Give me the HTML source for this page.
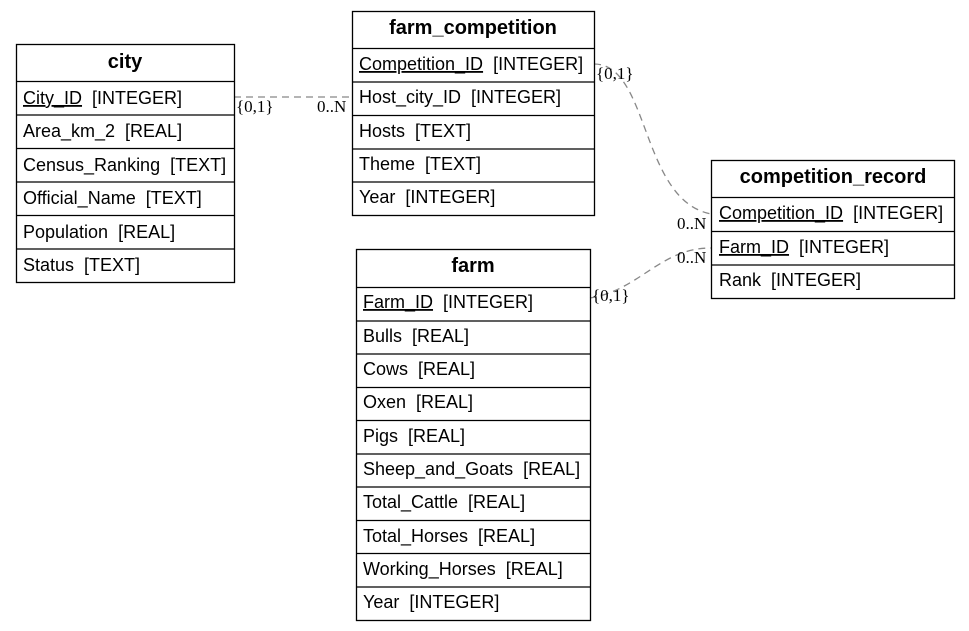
<!DOCTYPE html>
<html><head><meta charset="utf-8"><style>
html,body{margin:0;padding:0;background:#fff;width:969px;height:631px;overflow:hidden}
svg{display:block}
text{font-family:"Liberation Sans",Arial,sans-serif;font-size:18px;fill:#000;white-space:pre}
.t{font-weight:bold;font-size:20px}
.l{font-family:"Liberation Serif",serif;font-size:17px}
rect,line.b{fill:none;stroke:#000;stroke-width:1.3}
.d{fill:none;stroke:#888;stroke-width:1.3;stroke-dasharray:7,5}
</style></head><body>
<svg width="969" height="631">
<path class="d" d="M234,97 L352,97"/>
<path class="d" d="M594,64 C650,64 640,200 711,214"/>
<path class="d" d="M590,298 C640,290 660,248 711,248"/>
<text class="l" x="236" y="112">{0,1}</text>
<text class="l" x="317" y="112">0..N</text>
<text class="l" x="596" y="79">{0,1}</text>
<text class="l" x="677" y="229">0..N</text>
<text class="l" x="677" y="263">0..N</text>
<text class="l" x="592" y="301">{0,1}</text>

<rect x="16.5" y="44.5" width="218" height="238"/>
<text class="t" x="125" y="68" text-anchor="middle">city</text>
<line class="b" x1="16" y1="81.5" x2="234" y2="81.5"/>
<line class="b" x1="16" y1="115" x2="234" y2="115"/>
<line class="b" x1="16" y1="148.5" x2="234" y2="148.5"/>
<line class="b" x1="16" y1="182" x2="234" y2="182"/>
<line class="b" x1="16" y1="215.5" x2="234" y2="215.5"/>
<line class="b" x1="16" y1="249" x2="234" y2="249"/>
<text x="23" y="104"><tspan text-decoration="underline">City_ID</tspan>&#160;&#160;[INTEGER]</text>
<text x="23" y="137">Area_km_2&#160;&#160;[REAL]</text>
<text x="23" y="171">Census_Ranking&#160;&#160;[TEXT]</text>
<text x="23" y="204">Official_Name&#160;&#160;[TEXT]</text>
<text x="23" y="238">Population&#160;&#160;[REAL]</text>
<text x="23" y="271">Status&#160;&#160;[TEXT]</text>

<rect x="352.5" y="11.5" width="242" height="204"/>
<text class="t" x="473" y="34" text-anchor="middle">farm_competition</text>
<line class="b" x1="352" y1="48.5" x2="594" y2="48.5"/>
<line class="b" x1="352" y1="82" x2="594" y2="82"/>
<line class="b" x1="352" y1="115.5" x2="594" y2="115.5"/>
<line class="b" x1="352" y1="149" x2="594" y2="149"/>
<line class="b" x1="352" y1="182" x2="594" y2="182"/>
<text x="359" y="70"><tspan text-decoration="underline">Competition_ID</tspan>&#160;&#160;[INTEGER]</text>
<text x="359" y="103">Host_city_ID&#160;&#160;[INTEGER]</text>
<text x="359" y="137">Hosts&#160;&#160;[TEXT]</text>
<text x="359" y="170">Theme&#160;&#160;[TEXT]</text>
<text x="359" y="203">Year&#160;&#160;[INTEGER]</text>

<rect x="711.5" y="160.5" width="243" height="138"/>
<text class="t" x="833" y="183" text-anchor="middle">competition_record</text>
<line class="b" x1="711" y1="197.5" x2="954" y2="197.5"/>
<line class="b" x1="711" y1="231.5" x2="954" y2="231.5"/>
<line class="b" x1="711" y1="265" x2="954" y2="265"/>
<text x="719" y="219"><tspan text-decoration="underline">Competition_ID</tspan>&#160;&#160;[INTEGER]</text>
<text x="719" y="253"><tspan text-decoration="underline">Farm_ID</tspan>&#160;&#160;[INTEGER]</text>
<text x="719" y="286">Rank&#160;&#160;[INTEGER]</text>

<rect x="356.5" y="249.5" width="234" height="371"/>
<text class="t" x="473" y="272" text-anchor="middle">farm</text>
<line class="b" x1="356" y1="287.5" x2="590" y2="287.5"/>
<line class="b" x1="356" y1="321" x2="590" y2="321"/>
<line class="b" x1="356" y1="354" x2="590" y2="354"/>
<line class="b" x1="356" y1="387.5" x2="590" y2="387.5"/>
<line class="b" x1="356" y1="420.5" x2="590" y2="420.5"/>
<line class="b" x1="356" y1="454" x2="590" y2="454"/>
<line class="b" x1="356" y1="487" x2="590" y2="487"/>
<line class="b" x1="356" y1="520.5" x2="590" y2="520.5"/>
<line class="b" x1="356" y1="553.5" x2="590" y2="553.5"/>
<line class="b" x1="356" y1="587" x2="590" y2="587"/>
<text x="363" y="308"><tspan text-decoration="underline">Farm_ID</tspan>&#160;&#160;[INTEGER]</text>
<text x="363" y="342">Bulls&#160;&#160;[REAL]</text>
<text x="363" y="375">Cows&#160;&#160;[REAL]</text>
<text x="363" y="408">Oxen&#160;&#160;[REAL]</text>
<text x="363" y="442">Pigs&#160;&#160;[REAL]</text>
<text x="363" y="475">Sheep_and_Goats&#160;&#160;[REAL]</text>
<text x="363" y="508">Total_Cattle&#160;&#160;[REAL]</text>
<text x="363" y="542">Total_Horses&#160;&#160;[REAL]</text>
<text x="363" y="575">Working_Horses&#160;&#160;[REAL]</text>
<text x="363" y="608">Year&#160;&#160;[INTEGER]</text>
</svg>
</body></html>
